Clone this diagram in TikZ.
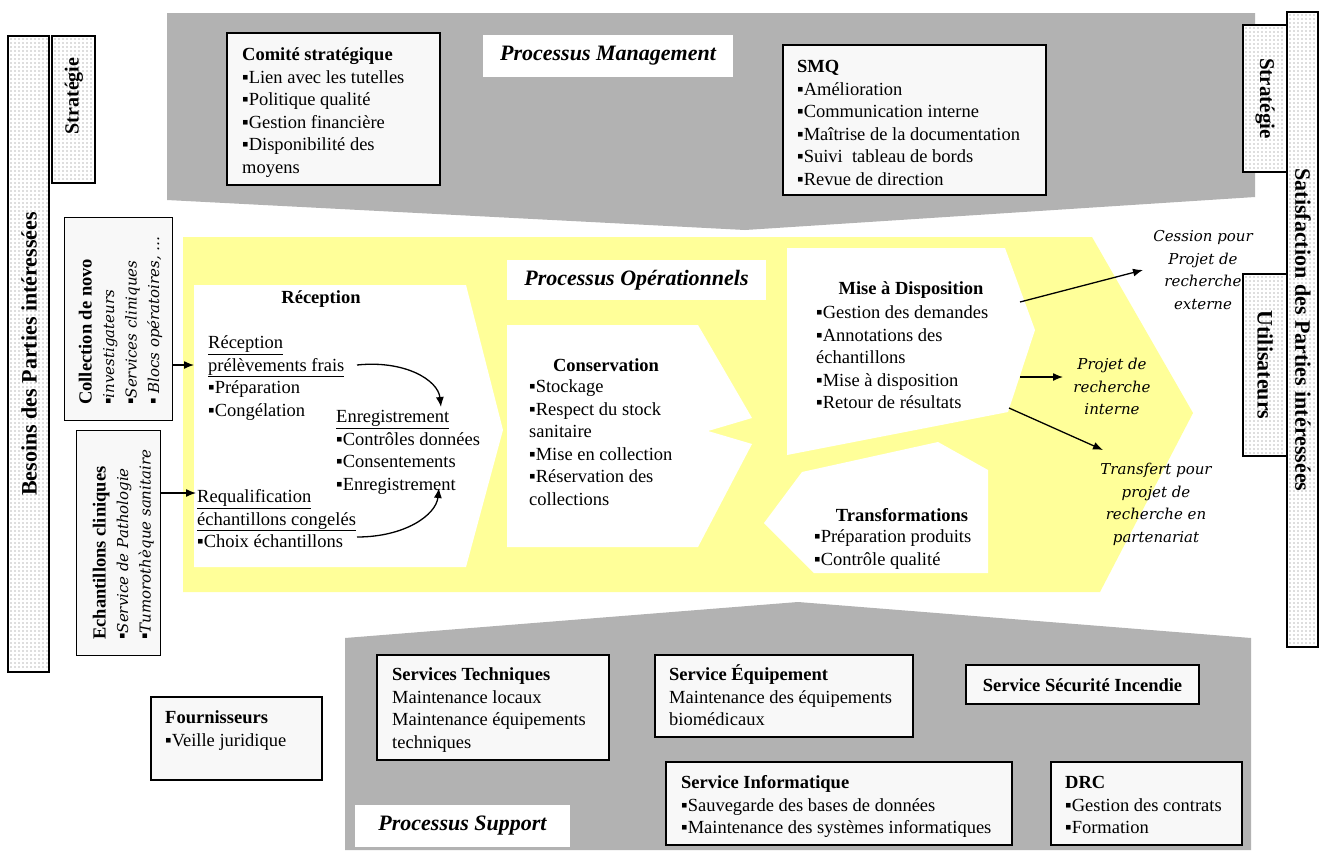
\documentclass[tikz,border=0pt]{standalone}
\usepackage{fontspec}
\setmainfont{Liberation Serif}
\newfontfamily\dvs{DejaVu Serif}
\usetikzlibrary{arrows.meta}
\definecolor{mgray}{RGB}{178,178,178}
\definecolor{myel}{RGB}{255,255,153}
\definecolor{boxf}{RGB}{248,248,248}
\newcommand{\bodyf}{\fontsize{18.5}{22.5}\selectfont}
\newcommand{\itf}{\dvs\itshape\fontsize{15}{22.5}\selectfont}
\newcommand{\bul}{{\rmfamily\upshape\fontsize{18.5}{22.5}\selectfont ▪}}
\begin{document}
\begin{tikzpicture}[x=1pt,y=-1pt,
  box/.style={draw=black, line width=1.2pt, fill=boxf},
  tb/.style={anchor=north west, inner sep=0pt, align=left, font=\bodyf},
  ttl/.style={inner sep=0pt, font=\bodyf\bfseries},
  lab/.style={fill=white, inner sep=0pt, font=\fontsize{22}{26}\selectfont\bfseries\itshape},
  rl/.style={anchor=north, inner sep=0pt, align=center, font=\dvs\itshape\fontsize{15}{22.7}\selectfont},
  barframe/.style={draw=black, line width=1.2pt},
  dotc/.style={fill=black!55},
  bar/.style={inner sep=0pt, font=\fontsize{22}{26}\selectfont\bfseries},
  arr/.style={-{Latex[length=10pt,width=8pt]}, line width=1.3pt}]
\path[use as bounding box, fill=white] (0,0) rectangle (1320,852);

% large background regions
\fill[mgray] (167,13) -- (1255,13) -- (1255,197) -- (745,230) -- (167,200) -- cycle;
\fill[myel] (183,237) -- (1092,237) -- (1193,413) -- (1100,592) -- (183,592) -- cycle;
\fill[mgray] (345,638) -- (798,602) -- (1251,638) -- (1251,850) -- (345,850) -- cycle;

% white process shapes
\fill[white] (194,285) -- (466,285) -- (503,430) -- (466,567) -- (194,567) -- cycle;
\fill[white] (507,325) -- (698,325) -- (752,418) -- (708,431) -- (752,444) -- (698,547) -- (507,547) -- cycle;
\fill[white] (787,248) -- (1005,248) -- (1035,330) -- (1008,412) -- (787,455) -- cycle;
\fill[white] (764,523) -- (802,472) -- (938,442) -- (988,470) -- (988,573) -- (814,573) -- cycle;

% process labels
\node[lab, minimum width=250, minimum height=42] (pm) at (608,56) {Processus Management};
\node[lab, minimum width=259, minimum height=40] (po) at (636.5,280) {Processus Opérationnels};
\node[lab, minimum width=215, minimum height=42] (ps) at (462.5,826) {Processus Support};

% management boxes
\draw[box] (227,33) rectangle (440,185);
\node[tb] (comt) at (242,44.75) {\strut\textbf{Comité stratégique}\\▪Lien avec les tutelles\\▪Politique qualité\\▪Gestion financière\\▪Disponibilité des\\moyens};
\draw[box] (783,45) rectangle (1046,195);
\node[tb] (smqt) at (797,56.75) {\strut\textbf{SMQ}\\▪Amélioration\\▪Communication interne\\▪Maîtrise de la documentation\\▪Suivi\ \ tableau de bords\\▪Revue de direction};

% Reception
\node[ttl] (rect) at (321,299) {Réception};
\node[tb] (reca) at (208,332.75) {\strut\underline{Réception}\\\underline{prélèvements frais}\\▪Préparation\\▪Congélation};
\node[tb] (enr) at (336,406.75) {\strut\underline{Enregistrement}\\▪Contrôles données\\▪Consentements\\▪Enregistrement};
\node[tb] (req) at (197,486.75) {\strut\underline{Requalification}\\\underline{échantillons congelés}\\▪Choix échantillons};
\coordinate (ca1) at (357,365); \coordinate (ca2) at (441,407);
\draw[arr] (ca1) .. controls (405,360) and (438,380) .. (ca2);
\coordinate (cb1) at (357,537); \coordinate (cb2) at (439,488);
\draw[arr] (cb1) .. controls (405,537) and (436,515) .. (cb2);

% Conservation
\node[ttl] (cont) at (606,365) {Conservation};
\node[tb] (conb) at (529,376.75) {\strut▪Stockage\\▪Respect du stock\\sanitaire\\▪Mise en collection\\▪Réservation des\\collections};

% Mise a disposition
\node[ttl] (mist) at (911,290) {Mise à Disposition};
\node[tb] (misb) at (816,302.75) {\strut▪Gestion des demandes\\▪Annotations des\\échantillons\\▪Mise à disposition\\▪Retour de résultats};

% Transformations
\node[ttl] (trat) at (902,515) {Transformations};
\node[tb] (trab) at (814,526.75) {\strut▪Préparation produits\\▪Contrôle qualité};

% outputs
\node[rl] (ces) at (1203,225.3) {\strut Cession pour\\Projet de\\recherche\\externe};
\node[rl] (pri) at (1112,353.3) {\strut Projet de\\recherche\\interne};
\node[rl] (trp) at (1156,458.3) {\strut Transfert pour\\projet de\\recherche en\\partenariat};
\coordinate (m1) at (1020,302); \coordinate (m1e) at (1143,270);
\draw[arr] (m1) -- (m1e);
\coordinate (m2) at (1020,377); \coordinate (m2e) at (1063,377);
\draw[arr] (m2) -- (m2e);
\coordinate (m3) at (1009,408); \coordinate (m3e) at (1103,450);
\draw[arr] (m3) -- (m3e);

% support boxes
\draw[box] (377,655) rectangle (609,760);
\node[tb] (stt) at (392,664.75) {\strut\textbf{Services Techniques}\\Maintenance locaux\\Maintenance équipements\\techniques};
\draw[box] (151,697) rectangle (322,780);
\node[tb] (fot) at (165,707.75) {\strut\textbf{Fournisseurs}\\▪Veille juridique};
\draw[box] (655,655) rectangle (913,737);
\node[tb] (seq) at (669,664.75) {\strut\textbf{Service Équipement}\\Maintenance des équipements\\biomédicaux};
\draw[box] (966,665) rectangle (1199,704);
\node[ttl] (ssi) at (1082.5,685) {Service Sécurité Incendie};
\draw[box] (666,762) rectangle (1012,845);
\node[tb] (sin) at (681,772.75) {\strut\textbf{Service Informatique}\\▪Sauvegarde des bases de données\\▪Maintenance des systèmes informatiques};
\draw[box] (1051,762) rectangle (1242,845);
\node[tb] (drc) at (1065,772.75) {\strut\textbf{DRC}\\▪Gestion des contrats\\▪Formation};

% left inputs
\node[box, minimum width=108, minimum height=203, anchor=north west, inner sep=0pt] (coll) at (64,217) {};
\node[tb, rotate=90] (collt) at (75.75,405) {\strut\textbf{Collection de novo}\\\bul{\itf investigateurs}\\\bul{\itf Services cliniques}\\\bul{\itf\ Blocs opératoires, …}};
\node[box, minimum width=84, minimum height=225, anchor=north west, inner sep=0pt] (ech) at (76,430) {};
\node[tb, rotate=90] (echt) at (89.75,640) {\strut\textbf{Echantillons cliniques}\\\bul{\itf Service de Pathologie}\\\bul{\itf Tumorothèque sanitaire}};
\coordinate (a1) at (194,365);
\draw[arr] (coll.east |- a1) -- (a1);
\coordinate (a2) at (196,493);
\draw[arr] (ech.east |- a2) -- (a2);

% side bars (dotted)
\fill[white] (8,36) rectangle (49,672);
\foreach \xx in {11,15,...,47} \foreach \yy in {39,43,...,670} \fill[dotc] (\xx,\yy) circle (0.6);
\draw[barframe] (8,36) rectangle (49,672);
\node[bar, rotate=90] (bes) at (29,354) {Besoins des Parties intéressées};

\fill[white] (52,36) rectangle (95,183);
\foreach \xx in {55,59,...,93} \foreach \yy in {39,43,...,181} \fill[dotc] (\xx,\yy) circle (0.6);
\draw[barframe] (52,36) rectangle (95,183);
\node[bar, rotate=90, font=\fontsize{20}{24}\selectfont\bfseries] (strl) at (74,96) {Stratégie};

\fill[white] (1243,25) rectangle (1287,172);
\foreach \xx in {1246,1250,...,1285} \foreach \yy in {28,32,...,170} \fill[dotc] (\xx,\yy) circle (0.6);
\draw[barframe] (1243,25) rectangle (1287,172);
\node[bar, rotate=-90, font=\fontsize{21}{24}\selectfont\bfseries] (strr) at (1265,98.5) {Stratégie};

\fill[white] (1243,274) rectangle (1287,456);
\foreach \xx in {1246,1250,...,1285} \foreach \yy in {277,281,...,454} \fill[dotc] (\xx,\yy) circle (0.6);
\draw[barframe] (1243,274) rectangle (1287,456);
\node[bar, rotate=-90] (uti) at (1265,365) {Utilisateurs};

\fill[white] (1287,12) rectangle (1318,647);
\foreach \xx in {1290,1294,...,1316} \foreach \yy in {15,19,...,645} \fill[dotc] (\xx,\yy) circle (0.6);
\draw[barframe] (1287,12) rectangle (1318,647);
\node[bar, rotate=-90] (sat) at (1303,330) {Satisfaction des Parties intéressées};
\end{tikzpicture}
\end{document}
